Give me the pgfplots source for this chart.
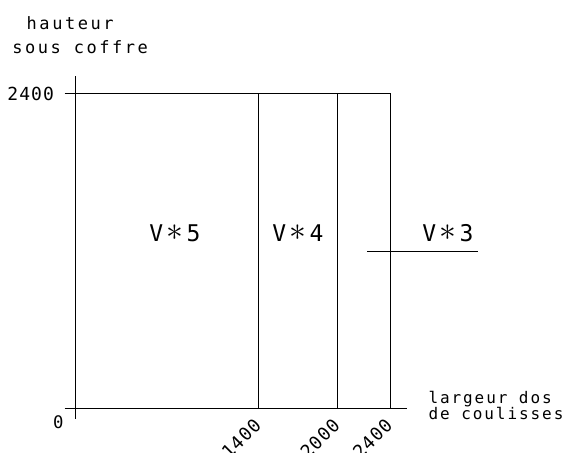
\documentclass[border=0pt]{standalone}
\usepackage{fontspec}
\usepackage{pgfplots}
\pgfplotsset{compat=1.18}
\newfontfamily\cadfont{DejaVu Sans Mono}
\newfontfamily\cadA{DejaVu Sans Mono}[LetterSpace=15]
\newfontfamily\cadB{DejaVu Sans Mono}[LetterSpace=12]
\newfontfamily\cadN{DejaVu Sans Mono}[LetterSpace=6]
\newcommand\vl[1]{\makebox[18.6pt]{V}\makebox[18.6pt]{\raisebox{1.2pt}{\scalebox{1.35}{$\ast$}}}\makebox[18.6pt]{#1}}
\begin{document}
\begin{tikzpicture}
\begin{axis}[
  scale only axis, width=566pt, height=453pt,
  xmin=-571.43, xmax=3740.95, ymin=-339.05, ymax=3112.38,
  hide axis, clip=false,
  cad/.style={black, line width=0.75pt, mark=none},
]
\addplot[cad] coordinates {(-80,0) (2530,0)};
\addplot[cad] coordinates {(0,-80) (0,2530)};
\addplot[cad] coordinates {(-80,2400) (2400,2400)};
\addplot[cad] coordinates {(1400,0) (1400,2400)};
\addplot[cad] coordinates {(2000,0) (2000,2400)};
\addplot[cad] coordinates {(2400,0) (2400,2400)};
\addplot[cad] coordinates {(2225,1200) (3070,1200)};
\addplot[black, line width=1.4pt, mark=none] coordinates {(400,0) (500,0)};
\end{axis}
\coordinate (O) at (current axis.north west);
\node[anchor=base west, inner sep=0, font=\cadA\fontsize{17}{17}\selectfont] at ([xshift=26.5pt,yshift=-30pt]O) {hauteur};
\node[anchor=base west, inner sep=0, font=\cadA\fontsize{17}{17}\selectfont] at ([xshift=12.2pt,yshift=-54pt]O) {sous coffre};
\node[anchor=base west, inner sep=0, font=\cadB\fontsize{16}{16}\selectfont] at ([xshift=428.3pt,yshift=-403.3pt]O) {largeur dos};
\node[anchor=base west, inner sep=0, font=\cadB\fontsize{16}{16}\selectfont] at ([xshift=428.4pt,yshift=-420pt]O) {de coulisses};
\node[anchor=base west, inner sep=0, font=\cadN\fontsize{18}{18}\selectfont] at ([xshift=7.2pt,yshift=-101pt]O) {2400};
\node[anchor=center, inner sep=0, font=\cadfont\fontsize{17.3}{17.3}\selectfont] at ([xshift=58.3pt,yshift=-422pt]O) {0};
\node[anchor=east, rotate=45, inner sep=0, font=\cadN\fontsize{18}{18}\selectfont] at ([xshift=257.75pt,yshift=-422pt]O) {1400};
\node[anchor=east, rotate=45, inner sep=0, font=\cadN\fontsize{18}{18}\selectfont] at ([xshift=336.5pt,yshift=-422pt]O) {2000};
\node[anchor=east, rotate=45, inner sep=0, font=\cadN\fontsize{18}{18}\selectfont] at ([xshift=389pt,yshift=-422pt]O) {2400};
\node[anchor=center, inner sep=0, font=\cadfont\fontsize{23}{23}\selectfont] at ([xshift=175pt,yshift=-233.5pt]O) {\vl{5}};
\node[anchor=center, inner sep=0, font=\cadfont\fontsize{23}{23}\selectfont] at ([xshift=298pt,yshift=-233.5pt]O) {\vl{4}};
\node[anchor=center, inner sep=0, font=\cadfont\fontsize{23}{23}\selectfont] at ([xshift=448pt,yshift=-233.5pt]O) {\vl{3}};
\pgfresetboundingbox
\path[use as bounding box] (current axis.south west) rectangle (current axis.north east);
\end{tikzpicture}
\end{document}
